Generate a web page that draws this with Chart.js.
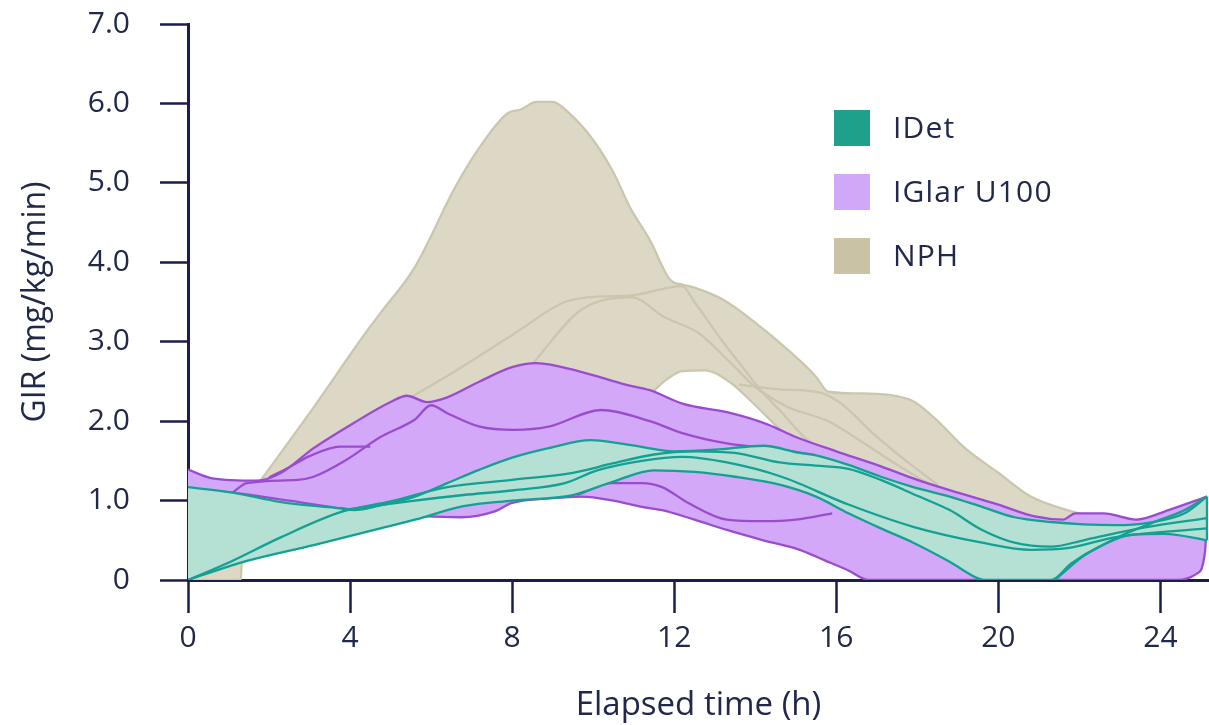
<!DOCTYPE html>
<html>
<head>
<meta charset="utf-8">
<script src="https://cdn.jsdelivr.net/npm/chart.js@4.4.0/dist/chart.umd.min.js"></script>
<style>
  html, body { margin: 0; padding: 0; background: #fff; }
  #wrap { position: relative; width: 1209px; height: 725px; }
  #legend { position: absolute; left: 834px; top: 110px; font-family: 'Open Sans', sans-serif; font-size: 30px; color: #22284a; letter-spacing: 1.2px; }
  #legend .item { position: relative; height: 64px; }
  #legend .sw { position: absolute; left: 0; top: 0; width: 36px; height: 36px; }
  #legend .txt { position: absolute; left: 59px; top: -4px; line-height: 42px; white-space: nowrap; }
</style>
</head>
<body>
<div id="wrap">
  <canvas id="girChart" width="1209" height="725"></canvas>
  <div id="legend"></div>
</div>
<script>
// axis ticks
const xTicks = [0, 4, 8, 12, 16, 20, 24];
const yTicks = [0, 1, 2, 3, 4, 5, 6, 7];

const seriesNames = ['IDet', 'IGlar U100', 'NPH'];
const legendColors = ['#1ea08b', '#cfa9f7', '#c9c2a5'];

// IDet envelope and single curves [hours, GIR]
const idetUpper = [[0,1.17],[1.1,1.1],[2.3,0.98],[3.8,0.9],[4.1,0.88],[4.75,0.94],[5.6,1.05],[6.4,1.22],[7.2,1.39],[8.0,1.54],[8.9,1.66],[9.95,1.76],[10.9,1.7],[12.0,1.62],[13.0,1.64],[14.2,1.69],[15.1,1.6],[15.5,1.57],[16.3,1.45],[17.1,1.3],[17.9,1.17],[18.8,1.05],[19.6,0.92],[20.4,0.79],[21.3,0.73],[22.1,0.7],[22.9,0.69],[23.7,0.72],[24.6,0.84],[25.15,1.05]];
const idetLower = [[0,0],[1.45,0.24],[3.1,0.44],[4.75,0.65],[5.6,0.76],[6.8,0.93],[8.0,1.0],[9.5,1.07],[10.5,1.24],[11.5,1.38],[12.5,1.36],[13.5,1.3],[14.6,1.2],[15.5,1.05],[16.3,0.84],[17.1,0.65],[17.9,0.47],[18.8,0.23],[19.5,0.02],[19.7,0],[21.3,0],[21.8,0.21],[22.5,0.42],[23.3,0.57],[24.1,0.58],[25.15,0.5]];
const idetLineA = [[0,0],[1.05,0.23],[2.3,0.54],[3.8,0.86],[5.0,0.99],[6.4,1.17],[8.0,1.26],[9.5,1.35],[10.5,1.47],[11.5,1.58],[12.5,1.62],[13.5,1.6],[14.6,1.48],[15.5,1.44],[16.3,1.4],[17.1,1.26],[18.0,1.06],[18.8,0.88],[19.6,0.63],[20.4,0.47],[21.3,0.42],[22.1,0.5],[22.9,0.59],[23.7,0.67],[25.15,0.78]];
const idetLineB = [[3.8,0.88],[5.6,1.0],[6.8,1.07],[8.05,1.13],[9.3,1.22],[10.1,1.38],[11.2,1.5],[12.2,1.55],[13.3,1.48],[14.65,1.3],[16.3,0.95],[17.9,0.67],[19.6,0.47],[20.8,0.38],[21.7,0.4],[22.9,0.54],[25.15,0.65]];
const idetLineC = [[21.4,0],[22.1,0.3],[23.0,0.55],[23.8,0.72],[24.6,0.88],[25.15,1.05]];
const idetEdge = [[25.15,0.5],[25.15,1.05]];

// IGlar U100
const iglarUpper = [[0,1.39],[0.6,1.28],[1.7,1.25],[2.3,1.35],[3.1,1.66],[4.1,1.98],[5.0,2.24],[5.4,2.32],[5.9,2.24],[6.4,2.3],[7.2,2.5],[8.0,2.68],[8.6,2.73],[9.7,2.62],[10.8,2.46],[11.4,2.39],[12.2,2.22],[13.4,2.1],[14.3,1.96],[15.0,1.8],[16.0,1.62],[17.0,1.45],[18.0,1.26],[19.0,1.1],[20.0,0.95],[20.9,0.8],[21.6,0.76],[21.9,0.84],[22.6,0.84],[23.4,0.76],[24.2,0.88],[25.15,1.05]];
const iglarLower = [[0,1.15],[1.1,1.1],[2.5,1.0],[3.8,0.9],[4.75,0.85],[5.9,0.8],[6.75,0.79],[7.55,0.86],[8.0,0.97],[9.0,1.03],[9.7,1.05],[10.5,1.0],[11.2,0.92],[11.7,0.88],[12.5,0.76],[13.3,0.63],[14.2,0.5],[15.1,0.38],[15.7,0.25],[16.3,0.12],[16.8,0],[24.4,0],[24.9,0.08],[25.1,0.35],[25.15,0.8]];
const iglarLineP1 = [[1.1,1.1],[1.45,1.22],[2.7,1.26],[3.1,1.3],[3.9,1.51],[4.75,1.8],[5.6,2.02],[6.0,2.2],[6.4,2.1],[7.2,1.93],[8.05,1.89],[8.9,1.93],[10.2,2.14],[11.4,2.0],[12.2,1.85],[13.3,1.72],[14.65,1.64],[15.5,1.57]];
const iglarLineP2 = [[2.0,1.29],[2.5,1.42],[3.0,1.56],[3.76,1.68],[4.5,1.68]];
const iglarLineP3 = [[9.6,1.07],[10.45,1.22],[11.2,1.22],[11.7,1.17],[12.35,0.97],[13.3,0.76],[14.2,0.74],[15.0,0.76],[15.9,0.84]];

// NPH
const nphUpper = [[0,0],[1.86,1.3],[3.0,2.1],[4.44,3.15],[4.75,3.36],[5.6,3.94],[6.6,4.95],[7.2,5.45],[7.9,5.88],[8.2,5.92],[8.6,6.02],[9.0,6.02],[9.4,5.88],[10.0,5.54],[10.5,5.13],[10.9,4.7],[11.4,4.28],[11.9,3.78],[12.2,3.72],[12.5,3.68],[13.2,3.53],[14.0,3.24],[14.8,2.9],[15.5,2.56],[15.8,2.37],[16.5,2.35],[17.3,2.33],[17.9,2.25],[18.4,2.05],[19.2,1.65],[20.0,1.35],[20.8,1.05],[21.7,0.88],[22.5,0.78],[23.5,0.7],[25.15,0.6]];
const nphLower = [[0,0],[1.3,0],[1.33,0.22],[2.0,0.45],[3.0,0.7],[5.0,1.3],[7.0,1.8],[9.0,2.1],[10.5,2.2],[11.3,2.3],[11.8,2.52],[12.2,2.63],[12.75,2.64],[13.4,2.48],[13.9,2.25],[14.4,2.0],[14.7,1.85],[15.5,1.5],[17.0,1.2],[19.0,0.9],[21.0,0.7],[22.5,0.6],[25.15,0.5]];
const nphLineA = [[5.5,2.3],[6.5,2.6],[8.05,3.1],[9.3,3.5],[10.2,3.57],[10.9,3.58],[12.2,3.7],[12.5,3.5],[13.2,3.0],[13.75,2.64],[14.2,2.35],[14.6,2.14],[15.3,1.76],[16.2,1.55]];
const nphLineB = [[8.5,2.72],[9.7,3.4],[10.95,3.56],[11.75,3.31],[12.6,3.11],[13.4,2.73],[14.0,2.43],[14.8,2.18],[15.8,2.0],[16.6,1.75],[17.5,1.45],[18.5,1.15],[19.3,0.95]];
const nphLineC = [[13.6,2.46],[14.6,2.4],[15.6,2.36],[16.1,2.23],[16.9,1.85],[17.7,1.51],[18.5,1.2]];

const axisColor = '#1b1d4b';
const textColor = '#22284a';

const toPts = arr => arr.map(p => ({ x: p[0], y: p[1] }));

function curve(data, color, fill, bg) {
    return {
        data: toPts(data),
        borderColor: color,
        borderWidth: 2.3,
        backgroundColor: bg || 'transparent',
        fill: fill || false,
        pointRadius: 0,
        cubicInterpolationMode: 'monotone'
    };
}

// first dataset is painted last, so each band goes: single curves, upper, lower (with the fill)
const teal = '#15a094', purple = '#9a4ccf', khaki = '#cbc6ae';
const edge = curve(idetEdge, teal);
edge.cubicInterpolationMode = 'default';
edge.tension = 0;

const datasets = [
    edge, curve(idetLineA, teal), curve(idetLineB, teal), curve(idetLineC, teal),
    curve(idetUpper, teal), curve(idetLower, teal, '-1', '#b4e1d3'),
    curve(iglarLineP1, purple), curve(iglarLineP2, purple), curve(iglarLineP3, purple),
    curve(iglarUpper, purple), curve(iglarLower, purple, '-1', '#d4a8f8'),
    curve(nphLineA, khaki), curve(nphLineB, khaki), curve(nphLineC, khaki),
    curve(nphUpper, khaki), curve(nphLower, khaki, '-1', '#dcd8c5')
];

Chart.defaults.font.family = "'Open Sans', sans-serif";

new Chart(document.getElementById('girChart'), {
    type: 'line',
    data: { datasets: datasets },
    options: {
        responsive: false,
        animation: false,
        devicePixelRatio: 1,
        layout: { padding: { top: 24, left: 0, right: 0, bottom: 0 } },
        plugins: { legend: { display: false }, tooltip: { enabled: false } },
        scales: {
            x: {
                type: 'linear', min: 0, max: 25.2, z: 1,
                afterBuildTicks: s => { s.ticks = xTicks.map(v => ({ value: v })); },
                afterFit: s => { s.height = 145; },
                ticks: { color: textColor, font: { size: 30 }, padding: 7, maxRotation: 0, autoSkip: false },
                grid: { drawOnChartArea: false, drawTicks: true, tickLength: 33, tickWidth: 2.5, tickColor: axisColor },
                border: { color: axisColor, width: 3 },
                title: { display: true, text: 'Elapsed time (h)', color: textColor, font: { size: 33 }, padding: { top: 0, bottom: 0 } }
            },
            y: {
                min: 0, max: 7, z: 1,
                afterBuildTicks: s => { s.ticks = yTicks.map(v => ({ value: v })); },
                afterFit: s => { s.width = 188; },
                ticks: { color: textColor, font: { size: 30 }, padding: 3, callback: v => v === 0 ? '0' : v.toFixed(1) },
                // long tick so the labels sit further out; the dash keeps only the 28px next to the axis visible
                grid: { drawOnChartArea: false, drawTicks: true, tickLength: 55, tickWidth: 2.5, tickColor: axisColor, tickBorderDash: [0, 27, 28] },
                border: { color: axisColor, width: 3 },
                title: { display: true, text: 'GIR (mg/kg/min)', color: textColor, font: { size: 32 }, padding: { top: 17, bottom: 0 } }
            }
        }
    }
});

const legend = document.getElementById('legend');
seriesNames.forEach((name, i) => {
    const row = document.createElement('div');
    row.className = 'item';
    row.innerHTML = `<span class="sw" style="background:${legendColors[i]}"></span><span class="txt">${name}</span>`;
    legend.appendChild(row);
});
</script>
</body>
</html>
